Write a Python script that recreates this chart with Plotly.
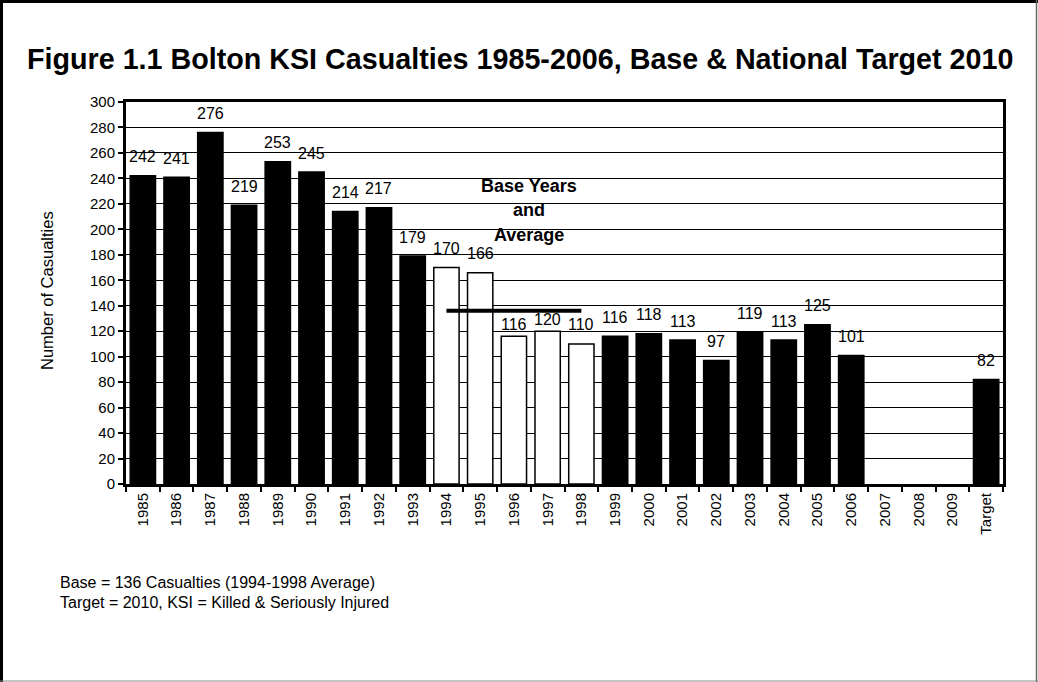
import plotly.graph_objects as go

categories = ["1985", "1986", "1987", "1988", "1989", "1990", "1991", "1992", "1993",
              "1994", "1995", "1996", "1997", "1998", "1999", "2000", "2001", "2002",
              "2003", "2004", "2005", "2006", "2007", "2008", "2009", "Target"]
casualties = [242, 241, 276, 219, 253, 245, 214, 217, 179,
              170, 166, 116, 120, 110, 116, 118, 113, 97,
              119, 113, 125, 101, None, None, None, 82]
base_years = ["1994", "1995", "1996", "1997", "1998"]
base_average = 136
y_ticks = list(range(0, 301, 20))

# plot area in pixels: x 126..1003, y 102..484
L, R, T, B = 126, 1003, 102, 484
W, H = 1038, 682
FONT = "Liberation Sans, Arial, sans-serif"
def px(x):
    return (x - L) / (R - L)
def py(y):
    return (B - y) / (B - T)

colors = ["white" if c in base_years else "black" for c in categories]

fig = go.Figure()
fig.add_trace(go.Bar(
    x=categories, y=casualties,
    marker=dict(color=colors, line=dict(color="black", width=1.5)),
    showlegend=False, hoverinfo="x+y",
))
fig.add_trace(go.Scatter(
    x=[base_years[0], base_years[-1]], y=[base_average, base_average],
    mode="lines", line=dict(color="black", width=4), showlegend=False,
))

label_shift = {"1996": 12, "1997": 12}
annotations = []
for i, (c, v) in enumerate(zip(categories, casualties)):
    if v is None:
        continue
    annotations.append(dict(
        x=i, y=v, xref="x", yref="y", text=str(v), showarrow=False,
        yanchor="middle", yshift=label_shift.get(c, 19),
        font=dict(family=FONT, size=16, color="black"),
    ))

for txt, yy in [("Base Years", 186), ("and", 210), ("Average", 235)]:
    annotations.append(dict(
        x=px(529), y=py(yy), xref="paper", yref="paper", text=f"<b>{txt}</b>",
        showarrow=False, xanchor="center", yanchor="middle",
        font=dict(family=FONT, size=18, color="black"),
    ))

annotations.append(dict(
    x=px(520), y=py(59), xref="paper", yref="paper",
    text="<b>Figure 1.1 Bolton KSI Casualties 1985-2006, Base & National Target 2010</b>",
    showarrow=False, xanchor="center", yanchor="middle",
    font=dict(family=FONT, size=28.7, color="black"),
))
annotations.append(dict(
    x=px(47), y=py(291), xref="paper", yref="paper", text="Number of Casualties",
    showarrow=False, textangle=-90, xanchor="center", yanchor="middle",
    font=dict(family=FONT, size=16.5, color="black"),
))
for txt, yy in [("Base = 136 Casualties (1994-1998 Average)", 582),
                ("Target = 2010, KSI = Killed & Seriously Injured", 602)]:
    annotations.append(dict(
        x=px(58), y=py(yy), xref="paper", yref="paper", text=txt,
        showarrow=False, xanchor="left", yanchor="middle",
        font=dict(family=FONT, size=16, color="black"),
    ))

shapes = [
    dict(type="line", xref="paper", yref="paper", x0=px(1.5), x1=px(1.5), y0=py(0), y1=py(682),
         line=dict(color="black", width=3)),
    dict(type="line", xref="paper", yref="paper", x0=px(0), x1=px(1038), y0=py(1.5), y1=py(1.5),
         line=dict(color="black", width=3)),
    dict(type="line", xref="paper", yref="paper", x0=px(1036.5), x1=px(1036.5), y0=py(0), y1=py(682),
         line=dict(color="#666666", width=1.5)),
    dict(type="line", xref="paper", yref="paper", x0=px(0), x1=px(1038), y0=py(681), y1=py(681),
         line=dict(color="#888888", width=1)),
]

fig.update_layout(
    width=W, height=H,
    margin=dict(l=L, r=W - R, t=T, b=H - B, pad=0),
    paper_bgcolor="white", plot_bgcolor="white",
    bargap=0.25,
    annotations=annotations, shapes=shapes,
    font=dict(family=FONT, color="black"),
)
fig.update_xaxes(
    type="category", categoryorder="array", categoryarray=categories,
    range=[-0.5, len(categories) - 0.5], autorange=False,
    showline=True, linecolor="black", linewidth=3, mirror=True,
    ticks="outside", tickson="boundaries", ticklen=5, tickcolor="black", tickwidth=1.5,
    tickangle=-90, tickfont=dict(size=15, family=FONT, color="black"),
    showgrid=False,
)
fig.update_yaxes(
    range=[0, 300], tickvals=y_ticks, autorange=False,
    showline=True, linecolor="black", linewidth=3, mirror=True,
    ticks="outside", ticklen=5, tickcolor="black", tickwidth=1.5,
    tickfont=dict(size=15, family=FONT, color="black"),
    showgrid=True, gridcolor="black", gridwidth=1, zeroline=False,
)

fig.write_html(
    "out.html",
    config={"displayModeBar": False},
    post_script="document.body.style.margin='0';document.body.style.overflow='hidden';",
)
